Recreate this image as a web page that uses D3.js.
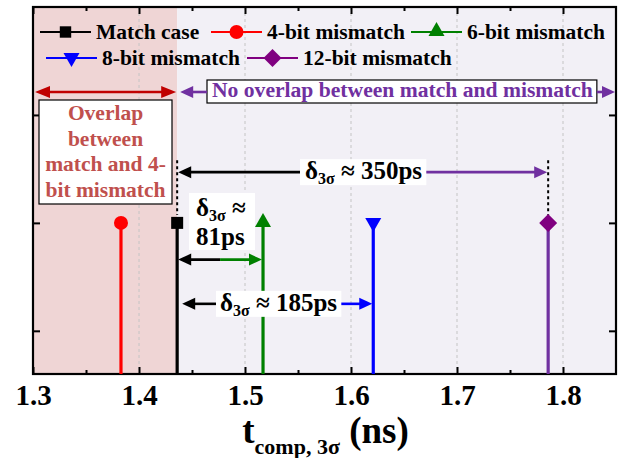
<!DOCTYPE html>
<html><head><meta charset="utf-8">
<script src="https://cdn.jsdelivr.net/npm/d3@7"></script>
</head><body style="margin:0;background:#fff">
<svg id="c" width="618" height="458" style="display:block"></svg>
<script>
// ---- data ----
const categories = ["Match case", "4-bit mismatch", "6-bit mismatch", "8-bit mismatch", "12-bit mismatch"];
const tValues = [1.436, 1.383, 1.517, 1.621, 1.786];          // t_comp,3σ (ns)
const markerLevel = [1, 1, 1, 1, 1];
const seriesColors = ["#000000", "#ff0000", "#008000", "#0000ff", "#800080"];
const stemColors = ["#000000", "#ff0000", "#008000", "#0000ff", "#7030a0"];
const markerShapes = ["square", "circle", "triUp", "triDown", "diamond"];
const xTicks = [1.3, 1.4, 1.5, 1.6, 1.7, 1.8];
const xTickLabels = ["1.3", "1.4", "1.5", "1.6", "1.7", "1.8"];
const xMinorTicks = [1.35, 1.45, 1.55, 1.65, 1.75];
const yTicks = [0, 1, 2];
const deltaTargets = [2, 3, 4];                 // index of mismatch case
const deltaLabels = ["81ps", "185ps", "350ps"];
const deltaLevels = [0.66, 0.25, 1.47];         // y level of arrow (data units)
const overlapLines = ["Overlap", "between", "match and 4-", "bit mismatch"];
const noOverlapText = "No overlap between match and mismatch";

// ---- layout ----
const FONT = '"Liberation Serif", Tinos, Times, serif';
const svg = d3.select("#c");
const M = {l: 33, r: 616, t: 7, b: 374};
const x = d3.scaleLinear().domain([1.3, 1.85]).range([M.l, M.r]);
const y = d3.scaleLinear().domain([-0.4, 3]).range([M.b, M.t]);
const matchX = x(tValues[0]);

// backgrounds
svg.append("rect").attr("x", x(1.3)).attr("y", M.t).attr("width", matchX - x(1.3)).attr("height", M.b - M.t).attr("fill", "#efd5d5");
svg.append("rect").attr("x", matchX).attr("y", M.t).attr("width", M.r - matchX).attr("height", M.b - M.t).attr("fill", "#f2f0f6");

// grid
svg.append("g").selectAll("line").data(xTicks.slice(1)).join("line")
  .attr("x1", d => x(d)).attr("x2", d => x(d)).attr("y1", M.t).attr("y2", M.b)
  .attr("stroke", "#c4c4c4").attr("stroke-width", 1).attr("stroke-dasharray", "3,3");

// axes (ticks inward)
const gBottom = svg.append("g").attr("transform", `translate(0,${M.b})`)
  .call(d3.axisBottom(x).tickValues(xTicks).tickSize(-7).tickPadding(14).tickFormat((d, i) => xTickLabels[i]));
const gBottomMinor = svg.append("g").attr("transform", `translate(0,${M.b})`)
  .call(d3.axisBottom(x).tickValues(xMinorTicks).tickSize(-4).tickFormat(""));
const gTop = svg.append("g").attr("transform", `translate(0,${M.t})`)
  .call(d3.axisTop(x).tickValues(xTicks).tickSize(-7).tickFormat(""));
const gTopMinor = svg.append("g").attr("transform", `translate(0,${M.t})`)
  .call(d3.axisTop(x).tickValues(xMinorTicks).tickSize(-4).tickFormat(""));
const gLeft = svg.append("g").attr("transform", `translate(${M.l},0)`)
  .call(d3.axisLeft(y).tickValues(yTicks).tickSize(-7).tickFormat(""));
const gRight = svg.append("g").attr("transform", `translate(${M.r},0)`)
  .call(d3.axisRight(y).tickValues(yTicks).tickSize(-7).tickFormat(""));
[gBottom, gBottomMinor, gTop, gTopMinor, gLeft, gRight].forEach(g => {
  g.attr("font-family", null).attr("font-size", null);
  g.select(".domain").remove();
  g.selectAll(".tick line").attr("stroke", "#000").attr("stroke-width", 2);
});
gBottom.selectAll(".tick text").attr("fill", "#000").attr("font-size", 29).attr("dy", "0.58em");
svg.append("rect").attr("x", M.l).attr("y", M.t).attr("width", M.r - M.l).attr("height", M.b - M.t)
  .attr("fill", "none").attr("stroke", "#000").attr("stroke-width", 2.2);

// x title
const title = svg.append("text").attr("x", (M.l + M.r) / 2 + 1).attr("y", 443).attr("text-anchor", "middle").attr("font-size", 37);
title.append("tspan").text("t");
title.append("tspan").attr("font-size", 22).attr("dy", 11).text("comp, 3σ");
title.append("tspan").attr("dy", -11).text(" (ns)");

// marker drawing
function marker(g, shape, cx, cy, color, s) {
  s = s || 1;
  if (shape === "square") g.append("rect").attr("x", cx - 6 * s).attr("y", cy - 6 * s).attr("width", 12 * s).attr("height", 12 * s).attr("fill", color);
  else if (shape === "circle") g.append("circle").attr("cx", cx).attr("cy", cy).attr("r", 7 * s).attr("fill", color);
  else if (shape === "triUp") g.append("path").attr("d", `M${cx},${cy - 10 * s}L${cx + 8 * s},${cy + 4 * s}L${cx - 8 * s},${cy + 4 * s}Z`).attr("fill", color);
  else if (shape === "triDown") g.append("path").attr("d", `M${cx - 8 * s},${cy - 5 * s}L${cx + 8 * s},${cy - 5 * s}L${cx},${cy + 9 * s}Z`).attr("fill", color);
  else if (shape === "diamond") g.append("path").attr("d", `M${cx},${cy - 9 * s}L${cx + 9 * s},${cy}L${cx},${cy + 9 * s}L${cx - 9 * s},${cy}Z`).attr("fill", color);
}

// dotted guides above match and 12-bit
const dots = svg.append("g");
[0, 4].forEach(i => {
  dots.append("line").attr("x1", x(tValues[i])).attr("x2", x(tValues[i]))
    .attr("y1", y(deltaLevels[2]) - 12).attr("y2", y(markerLevel[i]) - 8)
    .attr("stroke", "#000").attr("stroke-width", 2).attr("stroke-dasharray", "3,3");
});

// stems + markers
const stems = svg.append("g");
tValues.forEach((t, i) => {
  stems.append("line").attr("x1", x(t)).attr("x2", x(t)).attr("y1", M.b).attr("y2", y(markerLevel[i]))
    .attr("stroke", stemColors[i]).attr("stroke-width", 3.2);
  marker(stems, markerShapes[i], x(t), y(markerLevel[i]), seriesColors[i], 1);
});

// arrows
function arrowHead(g, tipX, yy, dir, color, L, W) {
  g.append("path").attr("d", `M${tipX},${yy}L${tipX - dir * L},${yy - W}L${tipX - dir * L},${yy + W}Z`).attr("fill", color);
}
function seg(g, x1, x2, yy, color) {
  g.append("line").attr("x1", x1).attr("x2", x2).attr("y1", yy).attr("y2", yy).attr("stroke", color).attr("stroke-width", 2.6);
}
function txt(g, xx, yy, size, color) {
  return g.append("text").attr("x", xx).attr("y", yy).attr("font-size", size).attr("fill", color || "#000")
    .attr("font-family", FONT).attr("font-weight", "bold");
}
const ann = svg.append("g");

// red double arrow (overlap region)
const ry = 92;
seg(ann, x(1.3) + 10, matchX - 10, ry, "#c00000");
arrowHead(ann, x(1.3) + 2, ry, -1, "#c00000", 15, 6);
arrowHead(ann, matchX - 1, ry, 1, "#c00000", 15, 6);

// overlap text box
ann.append("rect").attr("x", 39).attr("y", 100).attr("width", 133).attr("height", 104).attr("fill", "#fff").attr("stroke", "#000").attr("stroke-width", 1.2);
overlapLines.forEach((s, i) => {
  txt(ann, 105.5, 120 + i * 25.7, 21.5, "#c0504d").attr("text-anchor", "middle").text(s);
});

// "No overlap" box and purple arrows
const nt = txt(ann, 212, 97, 21.6, "#7030a0").text(noOverlapText);
const nb = nt.node().getBBox();
const nbR = nb.x + nb.width + 4;
ann.insert("rect", "text").attr("x", 207).attr("y", 80).attr("width", nbR - 207).attr("height", 23).attr("fill", "#fff").attr("stroke", "#000").attr("stroke-width", 1.2);
seg(ann, matchX + 10, 207, ry, "#7030a0");
arrowHead(ann, matchX + 3, ry, -1, "#7030a0", 13, 6);
seg(ann, nbR, M.r - 10, ry, "#7030a0");
arrowHead(ann, M.r - 1, ry, 1, "#7030a0", 13, 6);

// delta label helper
function deltaText(g, xx, yy, rest, size) {
  const t = txt(g, xx, yy, size, "#000");
  t.append("tspan").text("δ");
  t.append("tspan").attr("font-size", size * 0.64).attr("dy", 5).text("3σ");
  t.append("tspan").attr("dy", -5).text(rest);
  return t;
}

// 350ps
{
  const i = 2, tgt = deltaTargets[i], yy = y(deltaLevels[i]), col = stemColors[tgt];
  const t = deltaText(ann, 305, yy + 7, " ≈ " + deltaLabels[i], 25);
  const b = t.node().getBBox();
  ann.insert("rect", "text").attr("x", b.x - 5).attr("y", yy - 13).attr("width", b.width + 9).attr("height", 26).attr("fill", "#fff");
  seg(ann, matchX + 8, b.x - 5, yy, "#000");
  arrowHead(ann, matchX + 1, yy, -1, "#000", 13, 6);
  seg(ann, b.x + b.width + 4, x(tValues[tgt]) - 8, yy, col);
  arrowHead(ann, x(tValues[tgt]) - 1, yy, 1, col, 13, 6);
}
// 81ps
{
  const i = 0, tgt = deltaTargets[i], yy = y(deltaLevels[i]), col = stemColors[tgt];
  ann.append("rect").attr("x", 189).attr("y", 193).attr("width", 66).attr("height", 57).attr("fill", "#fff");
  deltaText(ann, 196, 216, " ≈", 25);
  txt(ann, 196, 245, 25, "#000").text(deltaLabels[i]);
  const mid = (matchX + x(tValues[tgt])) / 2;
  seg(ann, matchX + 8, mid, yy, "#000");
  arrowHead(ann, matchX + 1, yy, -1, "#000", 13, 6);
  seg(ann, mid, x(tValues[tgt]) - 8, yy, col);
  arrowHead(ann, x(tValues[tgt]) - 1, yy, 1, col, 13, 6);
}
// 185ps
{
  const i = 1, tgt = deltaTargets[i], yy = y(deltaLevels[i]), col = stemColors[tgt];
  const t = deltaText(ann, 220, yy + 7, " ≈ " + deltaLabels[i], 25);
  const b = t.node().getBBox();
  ann.insert("rect", "text").attr("x", b.x - 4).attr("y", yy - 13).attr("width", b.width + 8).attr("height", 26).attr("fill", "#fff");
  seg(ann, matchX + 12, b.x - 4, yy, "#000");
  arrowHead(ann, matchX + 5, yy, -1, "#000", 13, 6);
  seg(ann, b.x + b.width + 4, x(tValues[tgt]) - 8, yy, col);
  arrowHead(ann, x(tValues[tgt]) - 1, yy, 1, col, 13, 6);
}

// legend
const legendPos = [[40, 32], [211, 32], [411, 32], [46, 58], [247, 58]];
const lg = svg.append("g");
categories.forEach((c, i) => {
  const [lx, ly] = legendPos[i];
  lg.append("line").attr("x1", lx).attr("x2", lx + 51).attr("y1", ly).attr("y2", ly).attr("stroke", seriesColors[i]).attr("stroke-width", 2.2);
  marker(lg, markerShapes[i], lx + 25.5, ly, seriesColors[i], i === 0 ? 0.95 : 1);
  txt(lg, lx + 56, ly + 6.5, 21.5, "#000").text(c);
});

// make sure every text uses the serif face
svg.selectAll("text").attr("font-family", FONT).attr("font-weight", "bold");
</script>
</body></html>
